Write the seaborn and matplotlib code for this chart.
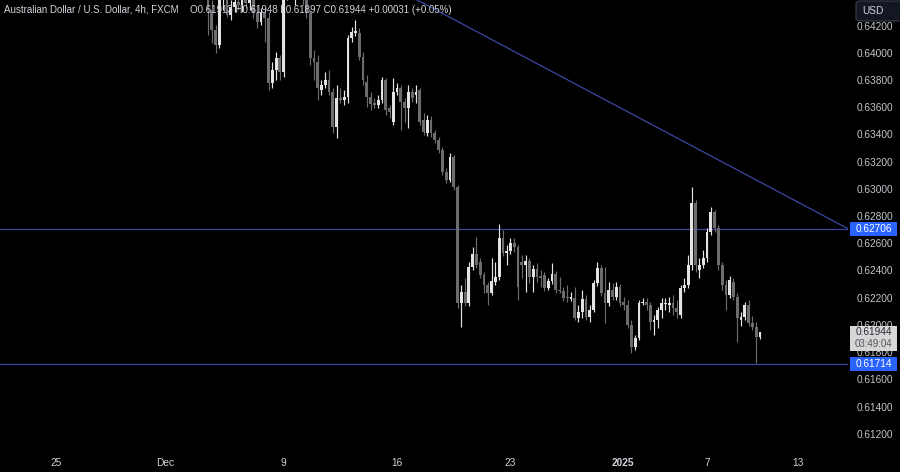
import numpy as np
import pandas as pd
import seaborn as sns
import matplotlib
matplotlib.use("Agg")
import matplotlib.pyplot as plt
import matplotlib.transforms as mtransforms
from matplotlib.patches import Rectangle, FancyBboxPatch

# ---------------- data (AUDUSD 4h) ----------------
opens = [0.64462, 0.64314, 0.64168, 0.64057, 0.64425, 0.64447, 0.64278, 0.64337, 0.64373, 0.64351,
         0.64388, 0.64366, 0.64403, 0.64292, 0.64226, 0.64292, 0.64256, 0.63778, 0.63874, 0.63962,
         0.63859, 0.64425, 0.64535, 0.64462, 0.64498, 0.64476, 0.64425, 0.64292, 0.63962, 0.63932,
         0.63727, 0.63763, 0.63800, 0.63712, 0.63455, 0.63668, 0.63653, 0.63675, 0.64109, 0.64145,
         0.64145, 0.63969, 0.63785, 0.63675, 0.63631, 0.63616, 0.63653, 0.63800, 0.63594, 0.63491,
         0.63712, 0.63741, 0.63638, 0.63594, 0.63712, 0.63690, 0.63727, 0.63506, 0.63410, 0.63506,
         0.63410, 0.63359, 0.63286, 0.63124, 0.63065, 0.63234, 0.63014, 0.62161, 0.62242, 0.62161,
         0.62426, 0.62521, 0.62462, 0.62367, 0.62293, 0.62234, 0.62315, 0.62352, 0.62639, 0.62528,
         0.62543, 0.62602, 0.62573, 0.62462, 0.62440, 0.62470, 0.62352, 0.62411, 0.62359, 0.62367,
         0.62271, 0.62323, 0.62374, 0.62257, 0.62249, 0.62205, 0.62190, 0.62198, 0.62051, 0.62095,
         0.62190, 0.62058, 0.62110, 0.62308, 0.62418, 0.62234, 0.62161, 0.62257, 0.62205, 0.62279,
         0.62168, 0.62146, 0.61999, 0.61838, 0.61904, 0.62161, 0.62168, 0.62146, 0.62021, 0.62036,
         0.62110, 0.62154, 0.62146, 0.62161, 0.62124, 0.62073, 0.62271, 0.62293, 0.62440, 0.62896,
         0.62403, 0.62440, 0.62492, 0.62683, 0.62830, 0.62712, 0.62440, 0.62293, 0.62220, 0.62315,
         0.62205, 0.62036, 0.62058, 0.62146, 0.62014, 0.61985, 0.61913]
highs = [0.64498, 0.64388, 0.64204, 0.64462, 0.64476, 0.64476, 0.64388, 0.64425, 0.64425, 0.64447,
         0.64432, 0.64417, 0.64425, 0.64351, 0.64329, 0.64329, 0.64300, 0.63932, 0.64006, 0.63984,
         0.64498, 0.64572, 0.64609, 0.64572, 0.64594, 0.64535, 0.64462, 0.64314, 0.64020, 0.63984,
         0.63800, 0.63859, 0.63874, 0.63741, 0.63763, 0.63741, 0.63727, 0.64131, 0.64190, 0.64241,
         0.64182, 0.64006, 0.63837, 0.63712, 0.63668, 0.63690, 0.63822, 0.63815, 0.63616, 0.63815,
         0.63778, 0.63763, 0.63668, 0.63763, 0.63741, 0.63763, 0.63741, 0.63557, 0.63543, 0.63535,
         0.63433, 0.63381, 0.63308, 0.63153, 0.63263, 0.63249, 0.63028, 0.62293, 0.62345, 0.62462,
         0.62573, 0.62646, 0.62492, 0.62389, 0.62315, 0.62492, 0.62462, 0.62742, 0.62697, 0.62588,
         0.62639, 0.62639, 0.62588, 0.62514, 0.62514, 0.62492, 0.62440, 0.62455, 0.62403, 0.62389,
         0.62345, 0.62455, 0.62396, 0.62352, 0.62279, 0.62293, 0.62242, 0.62279, 0.62146, 0.62257,
         0.62220, 0.62146, 0.62330, 0.62462, 0.62440, 0.62426, 0.62315, 0.62308, 0.62315, 0.62301,
         0.62205, 0.62183, 0.62036, 0.61926, 0.62183, 0.62198, 0.62198, 0.62168, 0.62073, 0.62132,
         0.62198, 0.62198, 0.62205, 0.62220, 0.62183, 0.62293, 0.62345, 0.62514, 0.63014, 0.62918,
         0.62492, 0.62550, 0.62712, 0.62867, 0.62844, 0.62734, 0.62462, 0.62330, 0.62359, 0.62345,
         0.62234, 0.62095, 0.62168, 0.62183, 0.62066, 0.62021, 0.61948]
lows = [0.64131, 0.64072, 0.63998, 0.64035, 0.64314, 0.64263, 0.64241, 0.64300, 0.64314, 0.64300,
        0.64329, 0.64314, 0.64256, 0.64182, 0.64204, 0.64079, 0.63727, 0.63741, 0.63800, 0.63800,
        0.63822, 0.64388, 0.64403, 0.64351, 0.64425, 0.64351, 0.64256, 0.63910, 0.63800, 0.63653,
        0.63690, 0.63741, 0.63690, 0.63410, 0.63374, 0.63631, 0.63616, 0.63631, 0.64079, 0.64123,
        0.63947, 0.63763, 0.63602, 0.63580, 0.63594, 0.63594, 0.63631, 0.63543, 0.63521, 0.63469,
        0.63690, 0.63433, 0.63491, 0.63447, 0.63638, 0.63631, 0.63469, 0.63396, 0.63388, 0.63381,
        0.63337, 0.63263, 0.63102, 0.63043, 0.63050, 0.62992, 0.62124, 0.61985, 0.62139, 0.62139,
        0.62403, 0.62418, 0.62345, 0.62234, 0.62146, 0.62220, 0.62293, 0.62330, 0.62506, 0.62440,
        0.62521, 0.62536, 0.62183, 0.62345, 0.62242, 0.62308, 0.62242, 0.62315, 0.62279, 0.62249,
        0.62257, 0.62301, 0.62234, 0.62234, 0.62176, 0.62168, 0.62176, 0.62036, 0.62021, 0.62051,
        0.62036, 0.62021, 0.62095, 0.62286, 0.62212, 0.62014, 0.62139, 0.62183, 0.62183, 0.62139,
        0.62110, 0.61980, 0.61793, 0.61815, 0.61890, 0.62146, 0.62110, 0.61963, 0.61926, 0.61980,
        0.62051, 0.62110, 0.62095, 0.62073, 0.62051, 0.62051, 0.62242, 0.62271, 0.62403, 0.62389,
        0.62345, 0.62418, 0.62462, 0.62661, 0.62683, 0.62403, 0.62257, 0.62110, 0.62198, 0.62183,
        0.61875, 0.61992, 0.62036, 0.61992, 0.61963, 0.61720, 0.61897]
closes = [0.64314, 0.64168, 0.64057, 0.64425, 0.64447, 0.64278, 0.64337, 0.64373, 0.64351, 0.64388,
          0.64366, 0.64403, 0.64292, 0.64226, 0.64292, 0.64256, 0.63778, 0.63874, 0.63962, 0.63859,
          0.64425, 0.64535, 0.64462, 0.64498, 0.64476, 0.64425, 0.64292, 0.63962, 0.63932, 0.63741,
          0.63763, 0.63800, 0.63712, 0.63455, 0.63668, 0.63653, 0.63675, 0.64109, 0.64153, 0.64160,
          0.63969, 0.63800, 0.63675, 0.63624, 0.63616, 0.63653, 0.63800, 0.63580, 0.63565, 0.63712,
          0.63741, 0.63638, 0.63594, 0.63712, 0.63668, 0.63712, 0.63491, 0.63418, 0.63506, 0.63410,
          0.63359, 0.63286, 0.63124, 0.63065, 0.63234, 0.63014, 0.62161, 0.62242, 0.62161, 0.62426,
          0.62521, 0.62440, 0.62367, 0.62293, 0.62234, 0.62323, 0.62352, 0.62639, 0.62528, 0.62543,
          0.62602, 0.62573, 0.62279, 0.62440, 0.62470, 0.62352, 0.62411, 0.62352, 0.62345, 0.62271,
          0.62323, 0.62374, 0.62257, 0.62249, 0.62198, 0.62198, 0.62205, 0.62051, 0.62095, 0.62190,
          0.62058, 0.62110, 0.62308, 0.62418, 0.62234, 0.62161, 0.62257, 0.62205, 0.62279, 0.62161,
          0.62146, 0.61999, 0.61838, 0.61904, 0.62161, 0.62168, 0.62146, 0.62021, 0.62036, 0.62110,
          0.62161, 0.62161, 0.62161, 0.62124, 0.62095, 0.62271, 0.62293, 0.62440, 0.62896, 0.62440,
          0.62440, 0.62492, 0.62683, 0.62830, 0.62712, 0.62440, 0.62293, 0.62220, 0.62330, 0.62205,
          0.62051, 0.62058, 0.62146, 0.62014, 0.61985, 0.61913, 0.61944]

date_labels = ["25", "Dec", "9", "16", "23", "2025", "7", "13"]
date_bar_pos = [-40.2, -11.4, 19.8, 50.0, 79.9, 109.8, 132.0, 156.1]
price_ticks = [0.612, 0.614, 0.616, 0.618, 0.620, 0.622, 0.624, 0.626,
               0.628, 0.630, 0.632, 0.634, 0.636, 0.638, 0.640, 0.642]
level_resistance = 0.62706
level_support = 0.61714
last_price = 0.61944
countdown = "03:49:04"
trend_bar = [20, 180]
trend_price = [0.64909, 0.62549]

title_text = "Australian Dollar / U.S. Dollar, 4h, FXCM"
ohlc_text = "O0.61913 H0.61948 L0.61897 C0.61944 +0.00031 (+0.05%)"

# ---------------- style ----------------
BG = "#000000"
UP = "#e3e3e3"
DOWN = "#6c6c70"
LINE = "#3b46a0"
TXT = "#d1d4dc"

sns.set_theme(style="dark", rc={"axes.facecolor": BG, "figure.facecolor": BG,
                                "axes.grid": False})
plt.rcParams["font.family"] = ["Liberation Sans", "DejaVu Sans"]

W, H = 900, 472
fig = plt.figure(figsize=(W / 100, H / 100), dpi=100)
plot_h_px = 448
ax = fig.add_axes([0, (H - plot_h_px) / H, 848 / W, plot_h_px / H])
ax.set_facecolor(BG)

df = pd.DataFrame({"o": opens, "h": highs, "l": lows, "c": closes})
df["i"] = np.arange(len(df))
up = df["c"] >= df["o"]
cols = np.where(up, UP, DOWN)

ymin, ymax = 0.61095, 0.64388
ppx = (ymax - ymin) / plot_h_px  # price per pixel

ax.vlines(df["i"], df["l"], df["h"], colors=cols, lw=0.85, zorder=2)
body = np.maximum((df["c"] - df["o"]).abs(), ppx * 1.0)
ax.bar(df["i"], body, bottom=np.minimum(df["o"], df["c"]), width=0.74,
       color=cols, linewidth=0, zorder=3)

# levels and trend line
ax.axhline(level_resistance, color=LINE, lw=0.9, zorder=1)
ax.axhline(level_support, color=LINE, lw=0.9, zorder=1)
sns.lineplot(x=trend_bar, y=trend_price, ax=ax, color=LINE, lw=0.9, zorder=1)

ax.set_xlim(-55.05, 169.3)
ax.set_ylim(ymin, ymax)
for s in ax.spines.values():
    s.set_visible(False)

ax.yaxis.tick_right()
ax.set_yticks(price_ticks)
ax.set_yticklabels([f"{p:.5f}" for p in price_ticks])
ax.tick_params(axis="y", length=0, pad=6.5, labelsize=7.3, labelcolor="#c3c5cb")
ax.set_xticks(date_bar_pos)
ax.set_xticklabels(date_labels)
ax.tick_params(axis="x", length=0, pad=7, labelsize=7.3, labelcolor=TXT)
for lab in ax.get_xticklabels():
    if lab.get_text() == "2025":
        lab.set_fontweight("bold")
ax.set_xlabel("")
ax.set_ylabel("")

# price-scale boxes
trans = mtransforms.blended_transform_factory(fig.transFigure, ax.transData)
bx0, bw = 850 / W, 47 / W
for lvl in (level_resistance, level_support):
    fig.add_artist(Rectangle((bx0, lvl - 7 * ppx), bw, 14 * ppx, transform=trans,
                             facecolor="#2962ff", edgecolor="none", zorder=5))
    fig.text(bx0 + bw / 2, lvl, f"{lvl:.5f}", transform=trans, ha="center",
             va="center", color="white", fontsize=7.3, zorder=6)

fig.add_artist(Rectangle((bx0, last_price - 18.5 * ppx), bw, 25 * ppx, transform=trans,
                         facecolor="#d6d6d6", edgecolor="none", zorder=5))
fig.text(bx0 + bw / 2, last_price, f"{last_price:.5f}", transform=trans, ha="center",
         va="center", color="#2a2e39", fontsize=7.3, zorder=6)
fig.text(bx0 + bw / 2, last_price - 12 * ppx, countdown, transform=trans, ha="center",
         va="center", color="#50535e", fontsize=7.0, zorder=6)

# currency box
fig.add_artist(FancyBboxPatch((856 / W, 1 - 21 / H), 48 / W, 20 / H,
                              boxstyle="round,pad=0,rounding_size=0.006",
                              transform=fig.transFigure, facecolor="#131722",
                              edgecolor="#3a3e4a", lw=0.8, zorder=5))
fig.text(873 / W, 1 - 10.5 / H, "USD", ha="center", va="center", color=TXT,
         fontsize=7.3, zorder=6)

# header
fig.text(4 / W, 1 - 10 / H, title_text, ha="left", va="center", color=TXT, fontsize=7.05, zorder=6)
fig.text(190 / W, 1 - 10 / H, ohlc_text, ha="left", va="center", color=TXT, fontsize=7.05, zorder=6)

fig.savefig("out.png", dpi=100, facecolor=BG)
